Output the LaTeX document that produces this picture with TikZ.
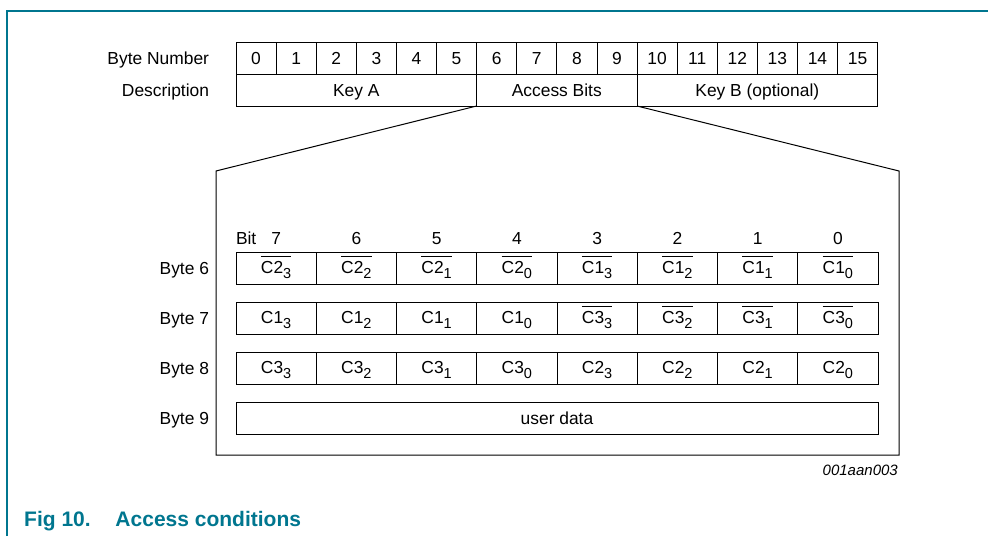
\documentclass[tikz,border=0pt]{standalone}
\usepackage{fontspec}
\setmainfont{Liberation Sans}
\usetikzlibrary{positioning}
\definecolor{nxpteal}{RGB}{0, 118, 143}

\newcommand{\bitsub}[1]{\raisebox{-4.5pt}{\fontsize{14.5}{16}\selectfont #1}}
\newcommand{\posbit}[2]{C#1\bitsub{#2}}
\newcommand{\negbit}[2]{$\overline{\hbox{\rule{0pt}{16pt}C#1\bitsub{#2}}}$}

\tikzset{
  cell/.style={draw, line width=0.8pt, inner sep=0pt, outer sep=0pt,
    minimum height=32pt, text height=12.5pt, text depth=0pt,
    font=\fontsize{17.4}{20}\selectfont},
  bytecell/.style={cell, minimum width=40.1pt},
  desccell/.style={cell, anchor=north west},
  bitcell/.style={cell, minimum width=80.25pt, text height=11.5pt},
  rowtext/.style={inner sep=0pt, outer sep=0pt, text height=12.5pt, text depth=0pt,
    font=\fontsize{17.4}{20}\selectfont},
}

\begin{document}
\begin{tikzpicture}[x=1pt, y=-1pt]
  \useasboundingbox (0,0) rectangle (988,536);
  % page frame
  \draw[nxpteal, line width=1.2pt] (7,536) -- (7,11) -- (988,11);

  % sector trailer bytes
  \foreach \i in {0,...,15}
    \node[bytecell] (b\i) at ({256.05+40.1*\i},58) {\i};
  \node[rowtext, left=27pt of b0] (lbnum) {Byte Number};

  \node[desccell, minimum width=240.6pt] (keya) at (b0.south west) {Key A};
  \node[desccell, minimum width=160.4pt] (access) at (keya.north east) {Access Bits};
  \node[desccell, minimum width=240.6pt] (keyb) at (access.north east) {Key B (optional)};
  \node[rowtext, left=27pt of keya] (lbdesc) {Description};

  % zoom onto the access bits
  \coordinate (tl) at (216,171);
  \coordinate (bl) at (216,455);
  \coordinate (br) at (899,455);
  \coordinate (tr) at (899,171);
  \draw[line width=1pt] (access.south west) -- (tl) -- (bl) -- (br) -- (tr) -- (access.south east);

  % bit positions
  \node[rowtext, anchor=west] (bitlbl) at (236,238) {Bit};
  \foreach \i in {0,...,7}
    \node[rowtext] (bit\i) at ({276.125+80.25*(7-\i)},238) {\i};

  % byte 6
  \foreach \c/\s [count=\j from 0] in {2/3, 2/2, 2/1, 2/0, 1/3, 1/2, 1/1, 1/0}
    \node[bitcell] (r6c\j) at ({276.125+80.25*\j},268) {\negbit{\c}{\s}};
  \node[rowtext, left=27pt of r6c0] (lb6) {Byte 6};

  % byte 7
  \foreach \c/\s [count=\j from 0] in {1/3, 1/2, 1/1, 1/0}
    \node[bitcell] (r7c\j) at ({276.125+80.25*\j},318) {\posbit{\c}{\s}};
  \foreach \c/\s [count=\j from 4] in {3/3, 3/2, 3/1, 3/0}
    \node[bitcell] (r7c\j) at ({276.125+80.25*\j},318) {\negbit{\c}{\s}};
  \node[rowtext, left=27pt of r7c0] (lb7) {Byte 7};

  % byte 8
  \foreach \c/\s [count=\j from 0] in {3/3, 3/2, 3/1, 3/0, 2/3, 2/2, 2/1, 2/0}
    \node[bitcell] (r8c\j) at ({276.125+80.25*\j},368) {\posbit{\c}{\s}};
  \node[rowtext, left=27pt of r8c0] (lb8) {Byte 8};

  % byte 9
  \node[cell, minimum width=642pt] (r9) at (557,418) {user data};
  \node[rowtext, left=27pt of r9] (lb9) {Byte 9};

  \node[anchor=base east, inner sep=0pt, font=\itshape\fontsize{15}{18}\selectfont] (figid) at (898,475) {001aan003};
  \node[anchor=base west, inner sep=0pt, text=nxpteal, font=\bfseries\fontsize{21}{24}\selectfont] (caption) at (24,526) {Fig 10.\hspace{17pt} Access conditions};
\end{tikzpicture}
\end{document}
